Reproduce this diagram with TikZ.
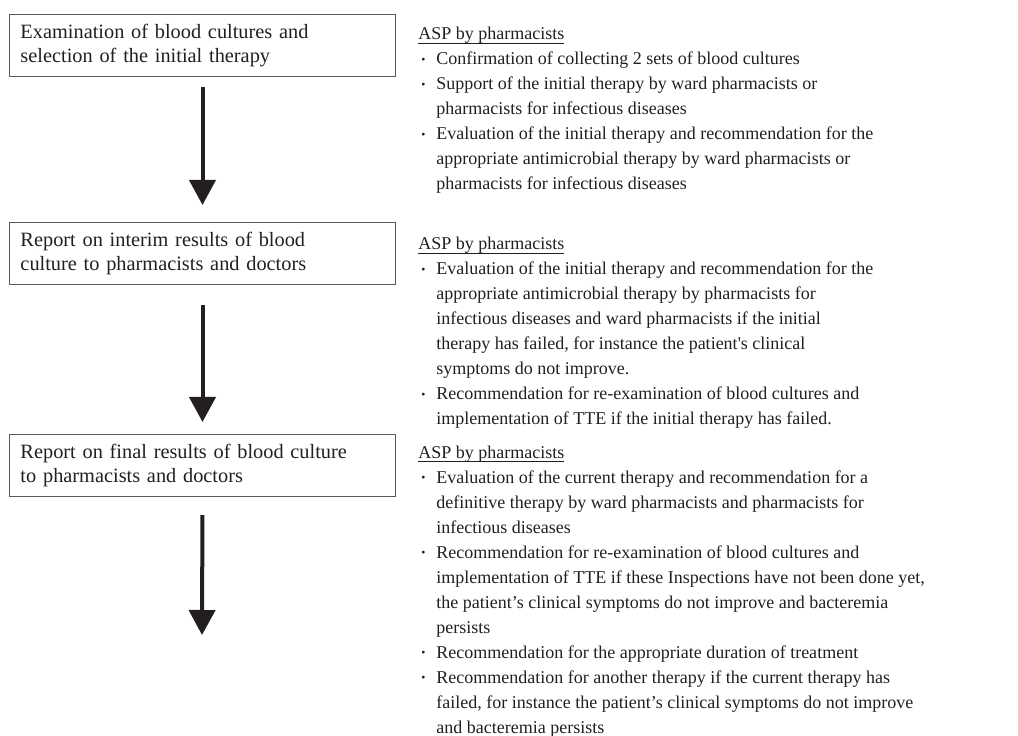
\documentclass[tikz,border=0pt]{standalone}
\usepackage{fontspec}
\setmainfont{Liberation Serif}
\usepackage{tikz}
\usetikzlibrary{arrows.meta, positioning}
\definecolor{box_gray}{HTML}{5A5A5A}
\definecolor{ink}{HTML}{231F20}
\newcommand{\bul}{\hspace{1.8pt}\raisebox{0.2ex}{\scriptsize\textbullet}}
\newcommand{\aspline}[1]{\setbox0\hbox{#1}\rlap{\rule[-2pt]{\wd0}{0.45pt}}\box0}
\tikzset{
    stage/.style={rectangle, draw=box_gray, line width=0.6pt, text=ink, anchor=north west, minimum height=37.2pt, text width=218.4pt, inner xsep=6.6pt, align=left, font=\fontsize{12.2}{14.4pt}\selectfont},
    asp/.style={anchor=base west, inner sep=0pt, text=ink, font=\fontsize{10.8}{15pt}\selectfont},
    flow/.style={line width=2.4pt, draw=ink, -{Triangle[width=15.6pt, length=15pt]}}
}

\begin{document}
\begin{tikzpicture}[x=0.6pt, y=-0.6pt]
    \useasboundingbox (0,0) rectangle (1018,736);

    \node (exam) [stage] at (9, 14) {Examination of blood cultures and\\selection of the initial therapy};
    \node (interim) [stage] at (9, 222) {Report on interim results of blood\\culture to pharmacists and doctors};
    \node (final) [stage] at (9, 434) {Report on final results of blood culture\\to pharmacists and doctors};
    \coordinate (end) at (202, 635);

    \node (asp_exam) [asp] at (418, 40) {\begin{tabular}[t]{@{}p{10.8pt}@{}l@{}}
        \multicolumn{2}{@{}l@{}}{\aspline{ASP by pharmacists}}\\
        \bul & Confirmation of collecting 2 sets of blood cultures\\
        \bul & Support of the initial therapy by ward pharmacists or\\
             & pharmacists for infectious diseases\\
        \bul & Evaluation of the initial therapy and recommendation for the\\
             & appropriate antimicrobial therapy by ward pharmacists or\\
             & pharmacists for infectious diseases
    \end{tabular}};

    \node (asp_interim) [asp] at (418, 250) {\begin{tabular}[t]{@{}p{10.8pt}@{}l@{}}
        \multicolumn{2}{@{}l@{}}{\aspline{ASP by pharmacists}}\\
        \bul & Evaluation of the initial therapy and recommendation for the\\
             & appropriate antimicrobial therapy by pharmacists for\\
             & infectious diseases and ward pharmacists if the initial\\
             & therapy has failed, for instance the patient\textquotesingle s clinical\\
             & symptoms do not improve.\\
        \bul & Recommendation for re-examination of blood cultures and\\
             & implementation of TTE if the initial therapy has failed.
    \end{tabular}};

    \node (asp_final) [asp] at (418, 458) {\begin{tabular}[t]{@{}p{10.8pt}@{}l@{}}
        \multicolumn{2}{@{}l@{}}{\aspline{ASP by pharmacists}}\\
        \bul & Evaluation of the current therapy and recommendation for a\\
             & definitive therapy by ward pharmacists and pharmacists for\\
             & infectious diseases\\
        \bul & Recommendation for re-examination of blood cultures and\\
             & implementation of TTE if these Inspections have not been done yet,\\
             & the patient’s clinical symptoms do not improve and bacteremia\\
             & persists\\
        \bul & Recommendation for the appropriate duration of treatment\\
        \bul & Recommendation for another therapy if the current therapy has\\
             & failed, for instance the patient’s clinical symptoms do not improve\\
             & and bacteremia persists
    \end{tabular}};

    % Connect stages
    \draw[flow, shorten <=6pt, shorten >=10.2pt] (exam.south) -- (interim.north);
    \draw[flow, shorten <=12pt, shorten >=7.2pt] (interim.south) -- (final.north);
    \draw[flow, shorten <=10.8pt] (final.south) -- (end);
\end{tikzpicture}
\end{document}
